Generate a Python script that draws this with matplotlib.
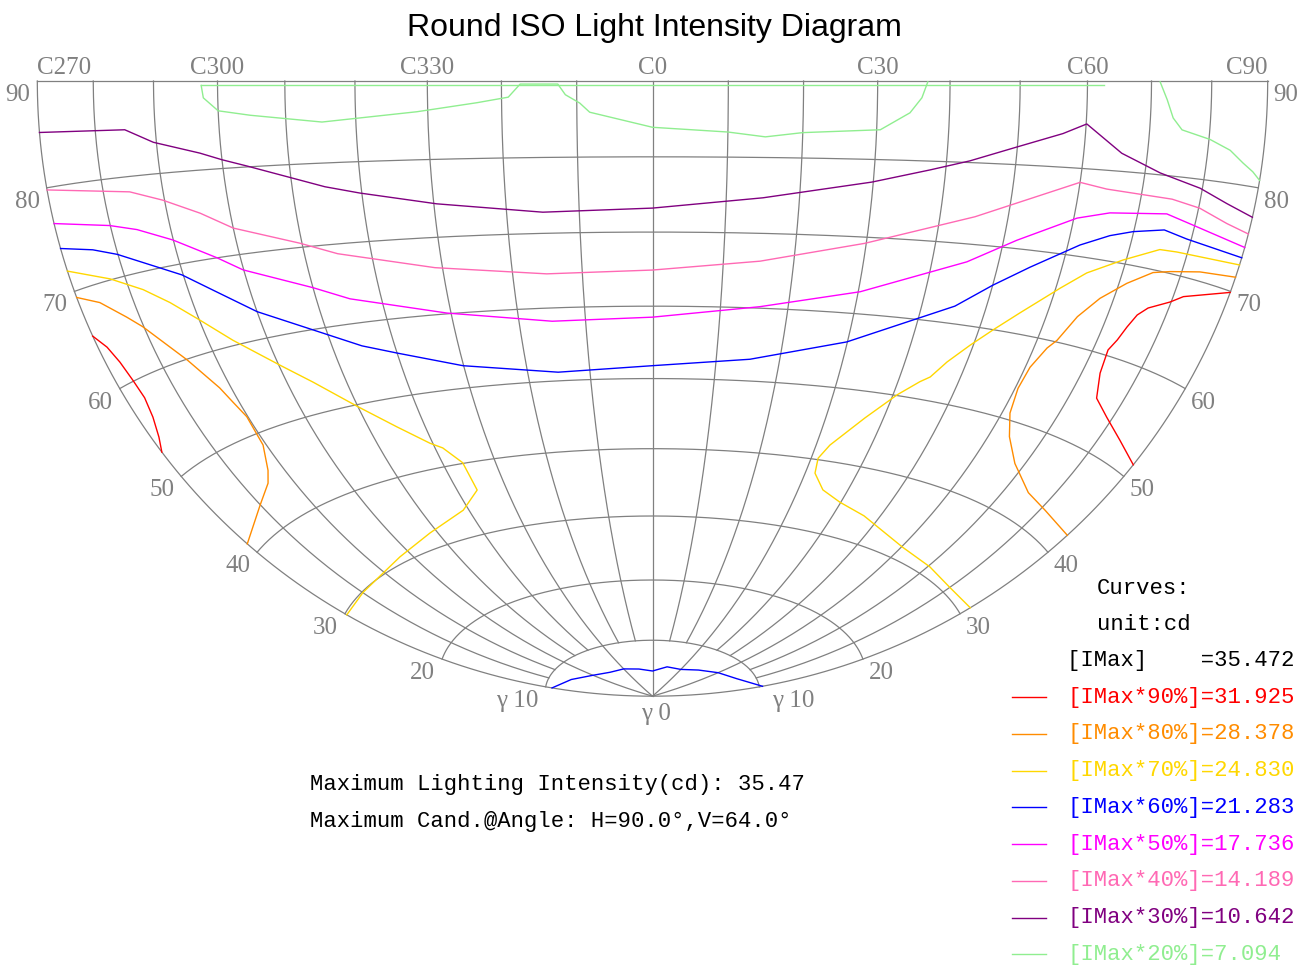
"""
Round ISO light intensity (isocandela) diagram.

Lower hemisphere drawn in a Lambert azimuthal equal-area projection centred
on the horizon at C0, with the C-plane meridians and gamma rings as grid.
"""

import numpy as np
import matplotlib
import matplotlib.pyplot as plt
from matplotlib.lines import Line2D

matplotlib.use("Agg")

# ---------------------------------------------------------------- data
i_max = 35.472
max_h = 90.0
max_v = 64.0

levels = [90, 80, 70, 60, 50, 40, 30, 20]          # % of IMax
level_values = [31.925, 28.378, 24.830, 21.283, 17.736, 14.189, 10.642, 7.094]
level_colors = ["#ff0000", "#ff8c00", "#ffd700", "#0000ff",
                "#ff00ff", "#ff69b4", "#800080", "#90ee90"]

# isocandela branches as (C angle, gamma angle) in degrees, C270 == -90
red_left_c = [-90, -88.3, -87.3, -86.7, -86.4, -87.1, -88.5, -90]
red_left_g = [65.5, 64.0, 62.2, 60.1, 58.1, 56.1, 54.2, 52.9]
red_right_c = [90, 81.8, 79.8, 76.4, 75.0, 74.1, 73.4, 72.6, 73.2, 75.0, 78.9, 84.1, 90]
red_right_g = [69.9, 68.1, 67.2, 66.0, 65.0, 63.5, 61.9, 60.6, 58.0, 55.4, 54.0, 52.6, 51.4]

orange_left_c = [-90, -86.1, -82.3, -80.2, -75.1, -72.0, -71.1, -70.2, -70.6, -73.1, -75.0, -80.1, -90]
orange_left_g = [69.4, 68.2, 66.0, 64.6, 59.9, 56.0, 54.1, 52.1, 48.6, 45.9, 44.7, 43.2, 41.2]
orange_right_c = [90, 83.2, 78.0, 75.1, 71.3, 67.7, 65.1, 63.3, 62.2, 60.8, 60.5, 61.4,
                  63.8, 68.1, 74.9, 81.0, 90]
orange_right_g = [71.4, 70.9, 70.2, 69.7, 68.0, 65.8, 63.3, 60.2, 59.1, 56.5, 53.8, 50.8,
                  48.2, 45.6, 43.4, 42.8, 42.4]

yellow_left_c = [-90, -82.7, -77.6, -73.8, -69.9, -65.8, -59.8, -55.6, -50.1, -45.0,
                 -40.5, -38.6, -36.2, -36.0, -41.2, -51.7, -62.9, -79.8, -90]
yellow_left_g = [72.0, 70.1, 68.2, 66.2, 63.6, 60.6, 56.6, 53.8, 49.8, 46.3,
                 43.4, 42.5, 40.1, 36.1, 33.8, 32.1, 30.8, 29.9, 29.8]
yellow_right_c = [90, 78.1, 75.1, 69.5, 64.2, 60.7, 55.6, 52.3, 49.5, 46.8, 45.0, 43.6,
                  40.7, 36.8, 32.5, 31.3, 31.9, 35.0, 39.8, 46.6, 60.3, 70.5, 79.9, 90]
yellow_right_g = [72.6, 72.3, 72.2, 70.4, 68.3, 66.1, 62.5, 60.0, 57.7, 55.2, 53.0, 52.2,
                  50.1, 46.5, 42.2, 40.2, 38.1, 36.0, 34.8, 33.8, 31.7, 31.2, 30.8, 31.1]

blue_outer_c = [-90, -84.2, -80.1, -73.5, -70.2, -65.9, -60.0, -45.2, -40.0, -30.1, -15.1, 0,
                15.3, 29.9, 45.1, 50.0, 55.0, 61.9, 66.3, 69.9, 75.0, 79.2, 90]
blue_outer_g = [74.2, 73.3, 72.3, 70.0, 68.8, 66.5, 63.2, 57.1, 55.6, 53.0, 51.2, 51.8,
                53.0, 56.2, 62.2, 65.3, 68.0, 71.3, 72.8, 73.6, 74.3, 73.8, 73.3]
blue_inner_c = [-90, -75, -60, -45, -30, -15, 0, 15, 30, 45, 60, 75, 90]
blue_inner_g = [9.4, 8.0, 6.6, 5.8, 5.6, 5.1, 4.6, 5.5, 5.5, 6.3, 7.3, 8.3, 10.3]

magenta_c = [-90, -80.1, -75.6, -70.1, -63.7, -60.1, -50.0, -44.8, -30.6, -15.0, 0,
             15.8, 30.3, 45.2, 52.0, 60.5, 65.5, 74.8, 79.7, 90]
magenta_g = [76.6, 75.3, 74.4, 72.7, 70.0, 68.2, 65.0, 63.1, 60.1, 58.2, 58.5,
             60.2, 62.9, 67.8, 71.0, 74.3, 75.3, 76.0, 75.3, 74.3]

pink_c = [-90, -75.5, -70.3, -64.7, -60.0, -50.3, -45.0, -31.1, -15.1, 0,
          15.2, 29.8, 45.1, 60.0, 64.3, 75.2, 80.2, 85.6, 90]
pink_g = [79.8, 78.4, 77.1, 75.2, 73.1, 70.5, 68.8, 66.1, 64.6, 64.9,
          66.3, 69.2, 73.4, 78.4, 77.9, 77.6, 77.1, 76.1, 75.6]

purple_c = [-90, -75.0, -70.5, -63.3, -60.0, -56.3, -45.2, -40.3, -29.6, -15.0, 0,
            15.0, 29.8, 37.8, 43.3, 49.9, 56.6, 60.1, 65.9, 72.5, 79.6, 84.8, 90]
purple_g = [85.2, 84.9, 83.4, 81.9, 81.0, 80.1, 77.1, 76.1, 74.3, 72.8, 73.2,
            74.7, 77.1, 78.9, 80.2, 82.1, 83.9, 85.1, 82.0, 80.2, 79.1, 78.0, 77.2]

green_a_c = [-62.5, -62.2, -60.0, -55.2, -44.8, -31.5, -23.3, -19.1, -17.5, -12.5, -11.5,
             -9.6, -8.3, 0, 10.0, 15.0, 20.0, 30.5, 34.5, 36.1, 36.9]
green_a_g = [89.5, 88.1, 86.6, 86.0, 85.0, 86.1, 87.2, 87.9, 89.6, 89.6, 88.2,
             87.1, 85.9, 83.9, 83.3, 82.7, 83.3, 83.8, 86.0, 87.9, 89.9]
green_b_c = [71.4, 72.6, 73.7, 75.3, 80.2, 83.9, 86.5, 88.5, 90]
green_b_g = [89.9, 88.0, 86.1, 84.9, 84.1, 83.2, 82.1, 81.4, 80.7]
green_top_c = [-62.5, 62.5]
green_top_g = [89.5, 89.5]

contours = {
    90: [(red_left_c, red_left_g), (red_right_c, red_right_g)],
    80: [(orange_left_c, orange_left_g), (orange_right_c, orange_right_g)],
    70: [(yellow_left_c, yellow_left_g), (yellow_right_c, yellow_right_g)],
    60: [(blue_outer_c, blue_outer_g), (blue_inner_c, blue_inner_g)],
    50: [(magenta_c, magenta_g)],
    40: [(pink_c, pink_g)],
    30: [(purple_c, purple_g)],
    20: [(green_a_c, green_a_g), (green_b_c, green_b_g), (green_top_c, green_top_g)],
}

c_label_planes = [-90, -60, -30, 0, 30, 60, 90]
gamma_rings = list(range(10, 91, 10))

# ---------------------------------------------------------------- layout
W, H = 1309, 972
SCALE = 435.0            # pixels per projection unit
ORIGIN = (652.5, 81.0)   # pixel position of C0 / gamma 90
GRID = "#808080"
LABEL_FONT = "Liberation Serif"
MONO_FONT = "Liberation Mono"
PT = 0.72                # points per pixel at 100 dpi


def project(c, g):
    """Lambert azimuthal equal-area, centred on the horizon at C0."""
    c = np.radians(np.asarray(c, dtype=float))
    g = np.radians(np.asarray(g, dtype=float))
    f = np.sqrt(2.0 / (1.0 + np.sin(g) * np.cos(c)))
    return f * np.sin(g) * np.sin(c), f * np.cos(g)


def fx(x):
    return x / W


def fy(y):
    return 1 - y / H


fig = plt.figure(figsize=(W / 100, H / 100), dpi=100)
ax = fig.add_axes([0, 0, 1, 1])
ax.set_xlim(-ORIGIN[0] / SCALE, (W - ORIGIN[0]) / SCALE)
ax.set_ylim((H - ORIGIN[1]) / SCALE, -ORIGIN[1] / SCALE)
ax.set_aspect("equal")
ax.axis("off")

# meridians (C planes), every 30 deg down to the nadir
for c in range(-90, 91, 10):
    g0 = 0 if c % 30 == 0 else 10
    gg = np.linspace(g0, 90, 200)
    x, y = project(np.full_like(gg, c), gg)
    ax.plot(x, y, color=GRID, lw=0.9, zorder=1)

# gamma rings
cc = np.linspace(-90, 90, 400)
for g in gamma_rings:
    x, y = project(cc, np.full_like(cc, g))
    ax.plot(x, y, color=GRID, lw=0.9, zorder=1)

# isocandela curves
for lvl, col in zip(levels, level_colors):
    for c_vals, g_vals in contours[lvl]:
        x, y = project(c_vals, g_vals)
        ax.plot(x, y, color=col, lw=1.0, zorder=3)

# C plane labels along the horizon
for c in c_label_planes:
    x, y = project(c, 90)
    ha = "left" if c == -90 else ("right" if c == 90 else "center")
    ax.annotate(f"C{c % 360}", (x, y), xytext=(0, 7 * PT), textcoords="offset points",
                ha=ha, va="baseline", fontsize=18, color=GRID, family=LABEL_FONT)

# gamma labels on both sides of the outline
for g in gamma_rings:
    text = f"γ {g}" if g == 10 else str(g)
    x, y = project(-90, g)
    ax.annotate(text, (x, y), xytext=(-7 * PT, -14 * PT), textcoords="offset points",
                ha="right", va="center", fontsize=18, color=GRID, family=LABEL_FONT)
    x, y = project(90, g)
    dx = 13 if g == 10 else 6
    ax.annotate(text, (x, y), xytext=(dx * PT, -14 * PT), textcoords="offset points",
                ha="left", va="center", fontsize=18, color=GRID, family=LABEL_FONT)
x, y = project(0, 0)
ax.annotate("γ 0", (x, y), xytext=(3 * PT, -18 * PT), textcoords="offset points",
            ha="center", va="center", fontsize=18, color=GRID, family=LABEL_FONT)

# title
fig.text(0.5, fy(36), "Round ISO Light Intensity Diagram", ha="center", va="baseline",
         fontsize=23, family="Liberation Sans", color="black")

# maximum intensity notes
fig.text(fx(310), fy(784), f"Maximum Lighting Intensity(cd): {i_max:.2f}",
         ha="left", va="center", fontsize=16, family=MONO_FONT, color="black")
fig.text(fx(310), fy(821), f"Maximum Cand.@Angle: H={max_h:.1f}°,V={max_v:.1f}°",
         ha="left", va="center", fontsize=16, family=MONO_FONT, color="black")

# curve legend
fig.text(fx(1097), fy(588), "Curves:", ha="left", va="center", fontsize=16,
         family=MONO_FONT, color="black")
fig.text(fx(1097), fy(624), "unit:cd", ha="left", va="center", fontsize=16,
         family=MONO_FONT, color="black")
fig.text(fx(1067), fy(660), f"[IMax]    ={i_max:.3f}", ha="left", va="center",
         fontsize=16, family=MONO_FONT, color="black")
for i, (lvl, val, col) in enumerate(zip(levels, level_values, level_colors)):
    yy = 697 + i * 36.75
    fig.add_artist(Line2D([fx(1012), fx(1046)], [fy(yy), fy(yy)], color=col, lw=1.0,
                          transform=fig.transFigure))
    fig.text(fx(1067), fy(yy), f"[IMax*{lvl}%]={val:.3f}", ha="left", va="center",
             fontsize=16, family=MONO_FONT, color=col)

fig.savefig("out.png", dpi=100)
plt.close(fig)
